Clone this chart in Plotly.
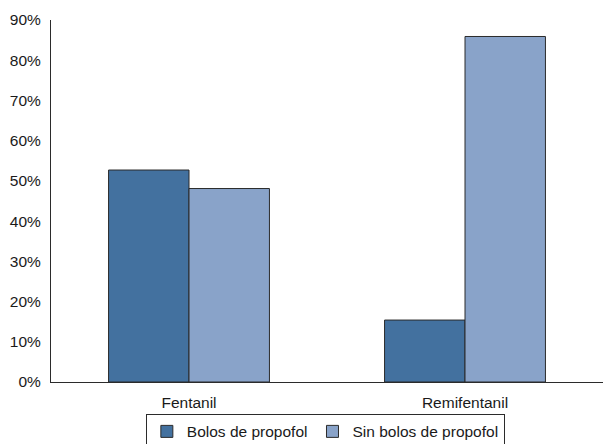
import plotly.graph_objects as go

categories = ["Fentanil", "Remifentanil"]
bolos = [52.7, 15.4]
sin_bolos = [48.1, 85.9]
tick_vals = [0, 10, 20, 30, 40, 50, 60, 70, 80, 90]
tick_text = [f"{v}%" for v in tick_vals]

fig = go.Figure()
fig.add_trace(go.Bar(x=categories, y=bolos, name="Bolos de propofol",
                     marker=dict(color="#43719F", line=dict(color="#2b2b2b", width=1))))
fig.add_trace(go.Bar(x=categories, y=sin_bolos, name="Sin bolos de propofol",
                     marker=dict(color="#89A3C9", line=dict(color="#2b2b2b", width=1))))

fig.update_layout(
    width=603, height=444,
    margin=dict(l=51, r=0, t=20, b=62),
    paper_bgcolor="white", plot_bgcolor="white",
    font=dict(family="Liberation Sans, Arial, sans-serif", size=15.5, color="#1a1a1a"),
    barmode="group", bargap=0.417, bargroupgap=0,
    showlegend=True,
    legend=dict(orientation="h", x=0.497, xanchor="center",
                yref="container", y=0.068, yanchor="top",
                bordercolor="#2b2b2b", borderwidth=1, font=dict(size=15.5),
                itemwidth=30, tracegroupgap=0),
    xaxis=dict(showline=True, linecolor="#2b2b2b", linewidth=1, ticks="",
               showgrid=False, range=[-0.5, 1.5], ticklabelstandoff=6),
    yaxis=dict(range=[0, 90], tickvals=tick_vals, ticktext=tick_text,
               showline=True, linecolor="#2b2b2b", linewidth=1, ticks="",
               showgrid=False, zeroline=False, ticklabelstandoff=6),
)

fig.write_html("out.html", config={"displayModeBar": False},
               post_script="document.body.style.margin='0';document.body.style.overflow='hidden';")
